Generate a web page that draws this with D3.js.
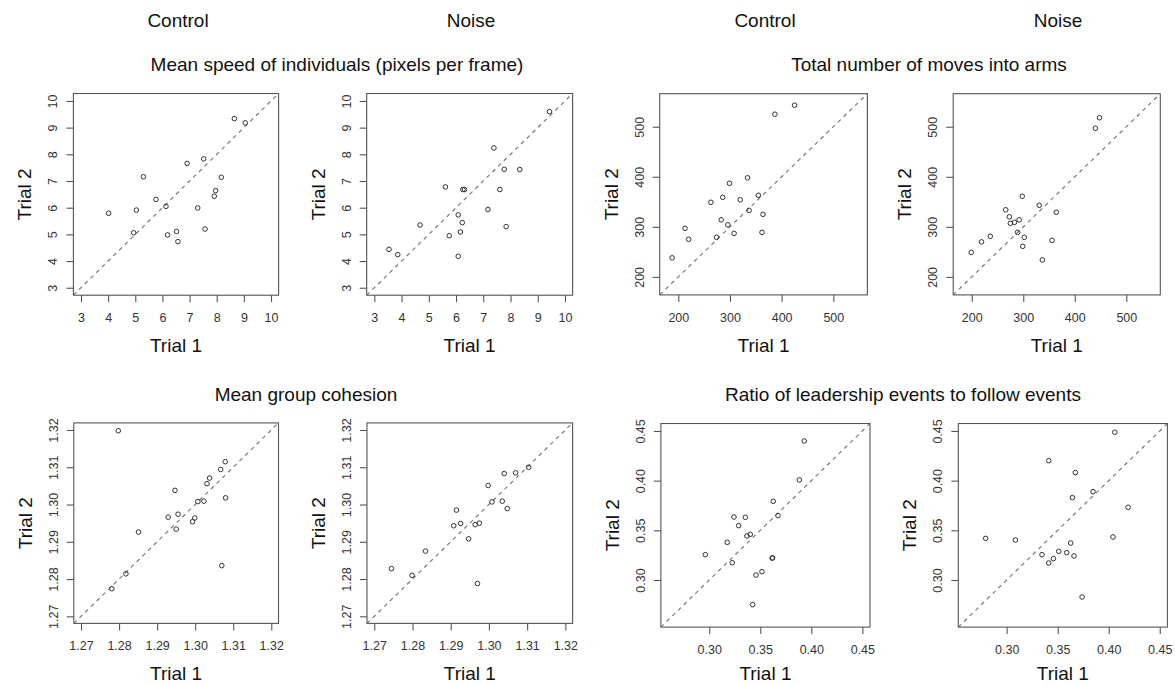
<!DOCTYPE html>
<html><head><meta charset="utf-8">
<script src="https://cdn.jsdelivr.net/npm/d3@7"></script>
<style>
body{margin:0;background:#fff}
svg{display:block}
text{font-family:"Liberation Sans",Arial,Helvetica,sans-serif}
</style>
</head><body>
<svg id="chart" width="1175" height="685"></svg>
<script>
// ---- data (Trial 1 vs Trial 2 per group) ----
const speedControlT1 = [8.65, 9.05, 6.91, 7.52, 5.30, 8.17, 7.96, 7.91, 5.76, 6.13, 7.30, 4.02, 5.04, 4.94, 6.19, 6.52, 6.57, 7.57];
const speedControlT2 = [9.34, 9.18, 7.66, 7.83, 7.16, 7.14, 6.64, 6.43, 6.31, 6.05, 5.99, 5.79, 5.91, 5.06, 4.98, 5.11, 4.73, 5.20];
const speedNoiseT1 = [9.43, 7.39, 7.77, 8.34, 5.61, 6.25, 6.31, 7.61, 7.17, 6.08, 6.23, 7.84, 4.68, 5.75, 6.16, 3.54, 3.86, 6.08];
const speedNoiseT2 = [9.60, 8.24, 7.44, 7.43, 6.78, 6.68, 6.68, 6.68, 5.93, 5.73, 5.44, 5.29, 5.35, 4.95, 5.09, 4.44, 4.24, 4.18];

const movesControlT1 = [425, 387, 334, 299, 263, 286, 320, 355, 337, 364, 283, 296, 213, 220, 274, 308, 362, 188];
const movesControlT2 = [543, 525, 398, 387, 349, 359, 354, 363, 333, 325, 314, 304, 297, 275, 279, 287, 289, 238];
const movesNoiseT1 = [448, 440, 298, 331, 364, 266, 273, 275, 283, 292, 289, 302, 299, 236, 219, 199, 356, 337];
const movesNoiseT2 = [518, 497, 361, 343, 329, 334, 320, 307, 309, 314, 289, 279, 261, 281, 270, 249, 273, 234];

const cohesionControlT1 = [1.2798, 1.3079, 1.3067, 1.3038, 1.3031, 1.2947, 1.3007, 1.3023, 1.3080, 1.2929, 1.2955, 1.2999, 1.2993, 1.2950, 1.2851, 1.3070, 1.2818, 1.2781];
const cohesionControlT2 = [1.3198, 1.3115, 1.3094, 1.3071, 1.3056, 1.3038, 1.3008, 1.3009, 1.3018, 1.2966, 1.2974, 1.2964, 1.2954, 1.2934, 1.2926, 1.2836, 1.2814, 1.2774];
const cohesionNoiseT1 = [1.3104, 1.3070, 1.3040, 1.2998, 1.3008, 1.3035, 1.3048, 1.2915, 1.2908, 1.2926, 1.2964, 1.2975, 1.2947, 1.2834, 1.2745, 1.2799, 1.2970];
const cohesionNoiseT2 = [1.3100, 1.3085, 1.3083, 1.3051, 1.3007, 1.3009, 1.2989, 1.2985, 1.2943, 1.2949, 1.2946, 1.2950, 1.2908, 1.2875, 1.2828, 1.2810, 1.2788];

const ratioControlT1 = [0.3931, 0.3882, 0.3627, 0.3673, 0.3242, 0.3353, 0.3288, 0.3369, 0.3402, 0.3176, 0.2961, 0.3225, 0.3616, 0.3620, 0.3516, 0.3458, 0.3425];
const ratioControlT2 = [0.4399, 0.4007, 0.3792, 0.3648, 0.3634, 0.3631, 0.3547, 0.3443, 0.3460, 0.3379, 0.3255, 0.3174, 0.3220, 0.3223, 0.3084, 0.3050, 0.2752];
const ratioNoiseT1 = [0.4059, 0.3412, 0.3673, 0.3846, 0.3644, 0.4190, 0.2794, 0.3085, 0.4042, 0.3627, 0.3346, 0.3510, 0.3588, 0.3660, 0.3458, 0.3412, 0.3739];
const ratioNoiseT2 = [0.4487, 0.4201, 0.4081, 0.3889, 0.3829, 0.3732, 0.3419, 0.3403, 0.3433, 0.3372, 0.3255, 0.3289, 0.3275, 0.3242, 0.3215, 0.3171, 0.2829];

// ---- axis ticks / labels ----
const speedTicks = [3, 4, 5, 6, 7, 8, 9, 10];
const movesTicks = [200, 300, 400, 500];
const cohesionTicks = [1.27, 1.28, 1.29, 1.30, 1.31, 1.32];
const ratioTicks = [0.30, 0.35, 0.40, 0.45];

const groupLabels = ["Control", "Noise", "Control", "Noise"];
const measureTitles = ["Mean speed of individuals (pixels per frame)", "Total number of moves into arms",
                       "Mean group cohesion", "Ratio of leadership events to follow events"];
const xLabel = "Trial 1";
const yLabel = "Trial 2";

// ---- layout ----
const svg = d3.select("#chart");
svg.append("rect").attr("width", 1175).attr("height", 685).attr("fill", "#fff");

const speedDom = [2.72, 10.28], movesDom = [164, 566], cohDom = [1.2681, 1.3219], ratioDom = [0.2526, 0.4575];
const fmtInt = d3.format("d"), fmt2 = d3.format(".2f");

// box = [left, top, right, bottom]; xlabY = baseline of the "Trial 1" label
const panels = [
  {t1: speedControlT1, t2: speedControlT2, dom: speedDom, ticks: speedTicks, fmt: fmtInt, box: [73.4, 93.5, 278.6, 295.2], xlabY: 352},
  {t1: speedNoiseT1, t2: speedNoiseT2, dom: speedDom, ticks: speedTicks, fmt: fmtInt, box: [366.7, 93.5, 572.6, 295.2], xlabY: 352},
  {t1: movesControlT1, t2: movesControlT2, dom: movesDom, ticks: movesTicks, fmt: fmtInt, box: [659.7, 93.7, 867.4, 294.9], xlabY: 352},
  {t1: movesNoiseT1, t2: movesNoiseT2, dom: movesDom, ticks: movesTicks, fmt: fmtInt, box: [953.2, 93.7, 1160.3, 294.9], xlabY: 352},
  {t1: cohesionControlT1, t2: cohesionControlT2, dom: cohDom, ticks: cohesionTicks, fmt: fmt2, box: [73.8, 422.9, 278.5, 623.4], xlabY: 680},
  {t1: cohesionNoiseT1, t2: cohesionNoiseT2, dom: cohDom, ticks: cohesionTicks, fmt: fmt2, box: [367.0, 422.9, 572.6, 623.4], xlabY: 680},
  {t1: ratioControlT1, t2: ratioControlT2, dom: ratioDom, ticks: ratioTicks, fmt: fmt2, box: [660.9, 423.5, 870.0, 627.1], xlabY: 680},
  {t1: ratioNoiseT1, t2: ratioNoiseT2, dom: ratioDom, ticks: ratioTicks, fmt: fmt2, box: [958.3, 423.5, 1167.4, 627.1], xlabY: 680}
];

const defs = svg.append("defs");

panels.forEach((p, i) => {
  const [x0, y0, x1, y1] = p.box;
  const x = d3.scaleLinear().domain(p.dom).range([x0, x1]);
  const y = d3.scaleLinear().domain(p.dom).range([y1, y0]);
  const g = svg.append("g");

  defs.append("clipPath").attr("id", "clip" + i)
    .append("rect").attr("x", x0).attr("y", y0).attr("width", x1 - x0).attr("height", y1 - y0);

  // identity line
  g.append("line")
    .attr("clip-path", `url(#clip${i})`)
    .attr("x1", x(p.dom[0])).attr("y1", y(p.dom[0]))
    .attr("x2", x(p.dom[1])).attr("y2", y(p.dom[1]))
    .attr("stroke", "#7a7a7a").attr("stroke-width", 1.2).attr("stroke-dasharray", "4,4");

  // points
  g.selectAll("circle").data(p.t1.map((v, k) => [v, p.t2[k]])).join("circle")
    .attr("cx", d => x(d[0])).attr("cy", d => y(d[1])).attr("r", 2.3)
    .attr("fill", "none").attr("stroke", "#333").attr("stroke-width", 1);

  // box
  g.append("rect").attr("x", x0).attr("y", y0).attr("width", x1 - x0).attr("height", y1 - y0)
    .attr("fill", "none").attr("stroke", "#555").attr("stroke-width", 1.1);

  // x axis
  const gx = g.append("g").attr("transform", `translate(0,${y1})`)
    .call(d3.axisBottom(x).tickValues(p.ticks).tickFormat(p.fmt).tickSize(7).tickSizeOuter(0));
  gx.select(".domain").remove();
  gx.selectAll("line").attr("stroke", "#555").attr("stroke-width", 1.1);
  gx.selectAll("text").attr("y", 27).attr("dy", null)
    .attr("font-size", 12.5).attr("fill", "#333").attr("font-family", null);

  // y axis
  const gy = g.append("g").attr("transform", `translate(${x0},0)`)
    .call(d3.axisLeft(y).tickValues(p.ticks).tickFormat(p.fmt).tickSize(7).tickSizeOuter(0));
  gy.select(".domain").remove();
  gy.selectAll("line").attr("stroke", "#555").attr("stroke-width", 1.1);
  gy.selectAll("text").attr("x", null).attr("dy", null).attr("y", null)
    .attr("transform", "translate(-16,0) rotate(-90)").attr("text-anchor", "middle")
    .attr("font-size", 12.5).attr("fill", "#333").attr("font-family", null);

  // axis labels
  g.append("text").attr("x", (x0 + x1) / 2).attr("y", p.xlabY)
    .attr("text-anchor", "middle").attr("font-size", 19).attr("fill", "#111").text(xLabel);
  g.append("text").attr("transform", `translate(${x0 - 42},${(y0 + y1) / 2}) rotate(-90)`)
    .attr("text-anchor", "middle").attr("font-size", 19).attr("fill", "#111").text(yLabel);
});

// group labels on top
const groupX = [178, 471, 765, 1058];
groupLabels.forEach((t, i) => {
  svg.append("text").attr("x", groupX[i]).attr("y", 26.7).attr("text-anchor", "middle")
    .attr("font-size", 19).attr("fill", "#111").text(t);
});

// measure titles
const titlePos = [[337, 70.7], [929, 70.7], [306, 400.5], [903, 400.5]];
measureTitles.forEach((t, i) => {
  svg.append("text").attr("x", titlePos[i][0]).attr("y", titlePos[i][1]).attr("text-anchor", "middle")
    .attr("font-size", 19).attr("fill", "#111").text(t);
});
</script>
</body></html>
